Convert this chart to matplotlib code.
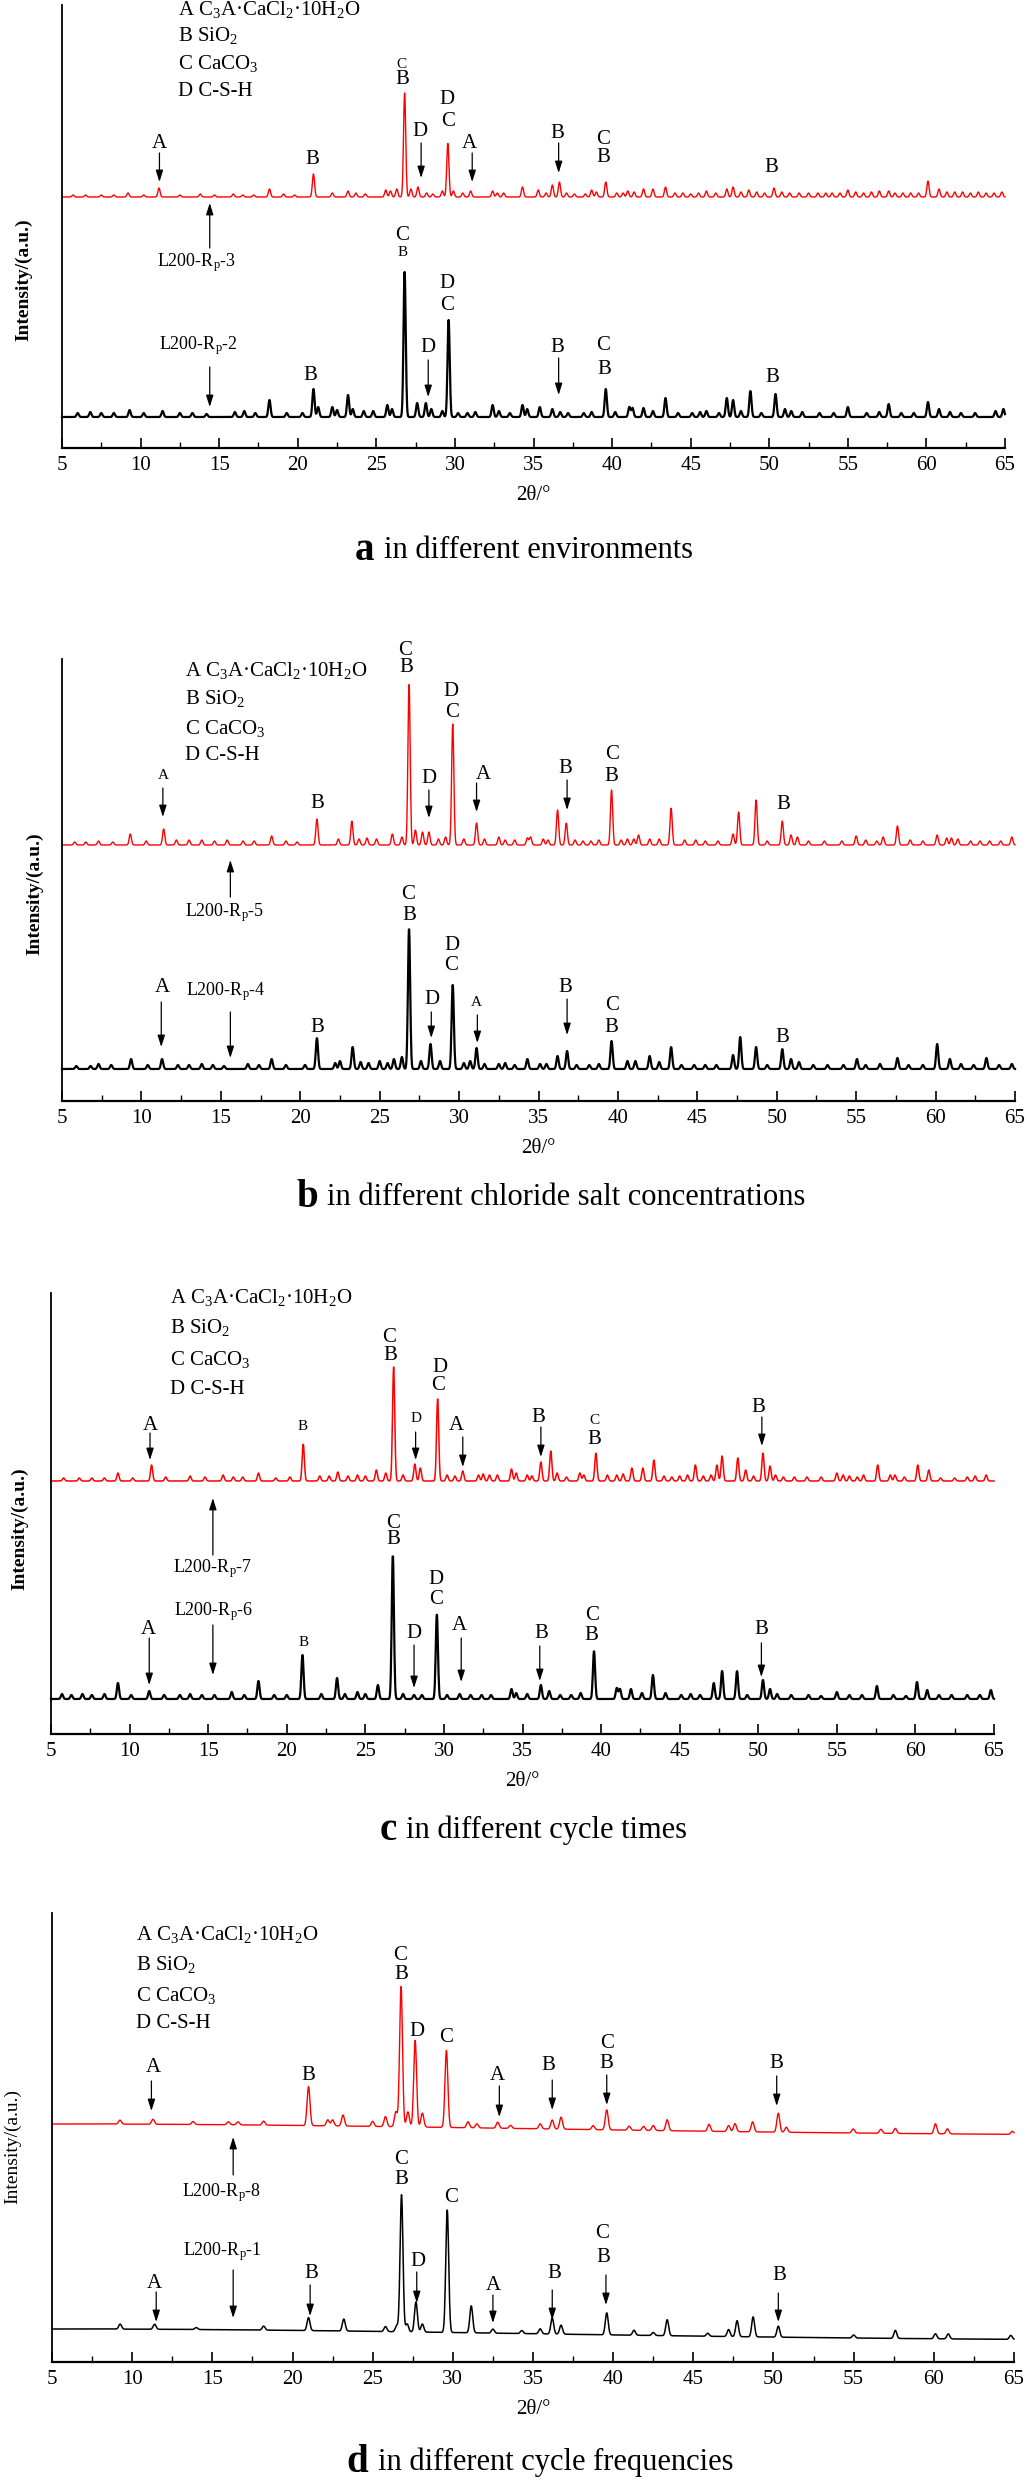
import numpy as np
import matplotlib
matplotlib.use("Agg")
import matplotlib.pyplot as plt

plt.rcParams['font.family'] = ['Liberation Serif', 'DejaVu Serif']
plt.rcParams['mathtext.fontset'] = 'custom'
plt.rcParams['mathtext.rm'] = 'Liberation Serif'
plt.rcParams['mathtext.it'] = 'Liberation Serif:italic'
plt.rcParams['mathtext.bf'] = 'Liberation Serif:bold'

# ---------------- data: peak lists (2theta, height in a.u.) ----------------
A_RED = [(5.7, 2), (6.5, 2), (7.5, 2), (8.3, 2), (9.2, 4), (10.2, 2), (11.17, 9), (12.5, 2),
         (13.8, 3), (14.7, 2), (15.9, 3), (16.5, 2), (17.2, 2), (18.2, 8), (19.1, 3), (19.8, 2),
         (21.0, 23), (22.2, 4), (23.2, 6), (23.7, 4), (24.3, 3), (25.6, 7), (25.9, 6), (26.3, 8),
         (26.8, 104), (27.2, 8), (27.65, 10), (28.2, 4), (28.6, 3), (29.2, 6), (29.55, 54), (29.9, 6),
         (30.5, 4), (31.0, 6), (32.4, 6), (32.7, 4), (33.1, 4), (34.3, 10), (35.3, 7), (35.8, 4),
         (36.2, 12), (36.65, 15), (37.1, 4), (37.6, 3), (38.3, 3), (38.7, 7), (39.0, 5), (39.6, 15),
         (40.3, 4), (40.7, 4), (41.0, 6), (41.4, 5), (42.0, 8), (42.6, 8), (43.4, 10), (44.0, 4),
         (44.5, 4), (45.0, 3), (45.5, 4), (46.0, 6), (46.6, 4), (47.3, 8), (47.7, 10), (48.2, 5),
         (48.7, 7), (49.2, 5), (49.7, 4), (50.3, 9), (50.8, 5), (51.3, 4), (51.9, 4), (52.5, 4),
         (53.1, 4), (53.6, 4), (54.0, 4), (54.5, 4), (55.0, 7), (55.5, 5), (56.0, 4), (56.5, 5),
         (57.0, 6), (57.6, 6), (58.0, 4), (58.5, 4), (59.0, 4), (59.5, 4), (60.1, 16), (60.8, 8),
         (61.3, 5), (61.8, 5), (62.3, 5), (62.8, 4), (63.3, 5), (63.8, 4), (64.3, 4), (64.8, 5)]
A_BLACK = [(6.0, 4), (6.8, 5), (7.5, 4), (8.3, 4), (9.3, 7), (10.2, 4), (11.4, 6), (12.5, 4),
           (13.3, 4), (14.2, 3), (16.0, 5), (16.6, 6), (17.3, 4), (18.2, 17), (19.3, 4), (20.3, 4),
           (21.0, 28), (21.3, 10), (22.2, 10), (22.5, 7), (23.2, 22), (23.5, 8), (24.2, 6), (24.8, 6),
           (25.7, 12), (26.0, 8), (26.8, 145), (27.6, 14), (28.15, 14), (28.5, 8), (29.2, 6), (29.6, 97),
           (30.2, 4), (30.8, 4), (31.3, 5), (32.4, 12), (32.8, 6), (33.5, 4), (34.3, 12), (34.6, 8),
           (35.4, 10), (36.2, 8), (36.7, 5), (37.2, 4), (38.2, 4), (38.7, 5), (39.6, 28), (40.2, 5),
           (41.1, 10), (41.3, 9), (42.0, 9), (42.6, 6), (43.4, 19), (44.2, 4), (45.1, 4), (45.6, 5),
           (46.0, 6), (46.8, 4), (47.3, 19), (47.7, 17), (48.2, 6), (48.8, 26), (49.5, 4), (50.4, 23),
           (51.0, 8), (51.4, 6), (52.1, 5), (53.2, 4), (54.1, 4), (55.0, 10), (56.2, 4), (57.0, 5),
           (57.6, 13), (58.4, 4), (59.2, 4), (60.1, 15), (60.8, 8), (61.5, 5), (62.2, 4), (63.1, 4),
           (64.4, 6), (64.9, 8)]

B_RED = [(5.8, 3), (6.5, 3), (7.3, 4), (8.2, 3), (9.3, 11), (10.3, 4), (11.4, 16), (12.2, 5),
         (13.0, 5), (13.8, 5), (14.6, 4), (15.4, 5), (16.4, 4), (17.1, 4), (18.2, 9), (19.1, 4),
         (19.8, 3), (21.05, 26), (22.4, 6), (23.25, 24), (23.7, 6), (24.2, 7), (24.8, 6), (25.8, 11),
         (26.4, 8), (26.85, 162), (27.25, 15), (27.7, 13), (28.1, 13), (28.7, 6), (29.15, 8),
         (29.6, 121), (30.3, 6), (31.1, 22), (31.6, 6), (32.5, 8), (32.9, 5), (33.5, 5), (34.3, 7),
         (34.5, 8), (35.3, 6), (35.6, 5), (36.2, 35), (36.75, 22), (37.3, 5), (37.8, 4), (38.3, 4),
         (38.8, 5), (39.6, 55), (40.2, 5), (40.6, 6), (41.0, 6), (41.3, 10), (42.0, 6), (42.6, 6),
         (43.35, 37), (44.2, 5), (44.9, 5), (45.5, 4), (46.3, 4), (47.25, 11), (47.6, 33), (48.7, 45),
         (49.4, 4), (50.35, 24), (50.9, 10), (51.3, 8), (52.0, 4), (53.0, 4), (54.1, 4), (55.0, 9),
         (55.6, 5), (56.3, 4), (56.7, 8), (57.6, 19), (58.4, 5), (59.2, 4), (60.1, 10), (60.7, 7),
         (61.0, 7), (61.4, 6), (62.2, 4), (62.8, 4), (63.4, 4), (64.1, 4), (64.8, 8)]
B_BLACK = [(5.9, 3), (6.8, 3), (7.3, 5), (8.1, 4), (9.35, 10), (10.4, 4), (11.3, 10), (12.3, 4),
           (13.0, 4), (13.8, 5), (14.5, 4), (15.2, 3), (16.7, 5), (17.4, 4), (18.2, 10), (19.1, 4),
           (20.3, 4), (21.05, 31), (22.2, 6), (22.5, 8), (23.3, 22), (23.8, 7), (24.3, 6), (25.0, 8),
           (25.5, 6), (25.9, 10), (26.4, 12), (26.85, 141), (27.6, 8), (28.2, 25), (28.8, 8),
           (29.6, 84), (30.3, 6), (30.7, 8), (31.1, 21), (31.6, 5), (32.5, 5), (32.9, 6), (33.5, 4),
           (34.3, 10), (35.1, 5), (35.5, 5), (36.2, 13), (36.8, 18), (37.4, 4), (38.2, 4), (38.8, 5),
           (39.6, 28), (40.6, 8), (41.1, 8), (42.0, 13), (42.6, 7), (43.35, 22), (44.0, 4), (44.8, 4),
           (45.5, 4), (46.2, 4), (47.25, 14), (47.7, 32), (48.7, 22), (49.4, 4), (50.35, 20),
           (50.9, 10), (51.4, 7), (52.3, 4), (53.2, 4), (54.2, 4), (55.05, 10), (55.6, 4), (56.5, 5),
           (57.6, 11), (58.3, 4), (59.2, 4), (60.1, 25), (60.9, 10), (61.6, 5), (62.4, 4), (63.2, 11),
           (64.0, 4), (64.8, 5)]

C_RED = [(5.8, 3), (6.8, 3), (7.6, 3), (8.4, 3), (9.26, 8), (10.2, 3), (11.4, 16), (12.3, 4),
         (13.85, 5), (14.8, 4), (15.95, 6), (16.6, 4), (17.2, 4), (18.2, 8), (19.3, 3), (20.2, 4),
         (21.05, 37), (22.1, 5), (22.7, 5), (23.25, 9), (23.9, 5), (24.5, 6), (25.0, 5), (25.7, 11),
         (26.3, 8), (26.8, 114), (27.4, 6), (28.15, 17), (28.5, 13), (29.6, 82), (30.2, 6), (30.7, 5),
         (31.2, 10), (32.2, 6), (32.5, 7), (32.9, 6), (33.4, 6), (34.3, 12), (34.6, 8), (35.3, 6),
         (35.6, 5), (36.17, 19), (36.8, 30), (37.2, 8), (37.8, 4), (38.65, 8), (38.9, 6), (39.67, 28),
         (40.4, 6), (41.0, 6), (41.4, 7), (41.96, 13), (42.66, 13), (43.36, 21), (44.0, 5), (44.5, 4),
         (45.0, 5), (45.5, 6), (46.0, 16), (46.5, 5), (47.0, 6), (47.37, 16), (47.7, 25), (48.7, 23),
         (49.2, 11), (49.7, 5), (50.3, 28), (50.75, 15), (51.1, 6), (51.6, 4), (52.3, 4), (53.1, 4),
         (54.0, 4), (55.0, 8), (55.4, 6), (55.8, 5), (56.3, 4), (56.7, 6), (57.6, 16), (58.4, 6),
         (58.7, 6), (59.3, 4), (60.15, 16), (60.85, 11), (61.6, 3), (62.5, 3), (63.3, 4), (63.8, 5),
         (64.5, 6)]
C_BLACK = [(5.7, 5), (6.3, 4), (7.0, 5), (7.6, 4), (8.4, 5), (9.26, 16), (10.1, 4), (11.25, 8),
           (12.2, 4), (13.2, 4), (13.85, 5), (14.6, 4), (15.4, 4), (16.5, 7), (17.3, 4), (18.2, 18),
           (19.2, 4), (20.0, 4), (21.0, 44), (22.2, 5), (23.2, 21), (23.7, 5), (24.5, 7), (25.0, 5),
           (25.8, 14), (26.75, 144), (27.4, 5), (28.1, 4), (28.6, 4), (29.55, 85), (30.2, 4), (31.0, 5),
           (31.7, 4), (32.4, 4), (33.0, 4), (34.3, 10), (34.6, 6), (35.3, 5), (36.17, 14), (36.7, 8),
           (37.4, 4), (38.1, 4), (38.7, 6), (39.55, 48), (41.0, 11), (41.2, 10), (41.9, 10), (42.6, 6),
           (43.3, 24), (44.1, 6), (45.1, 4), (45.7, 5), (46.3, 4), (47.17, 16), (47.7, 28), (48.65, 28),
           (49.3, 4), (50.3, 19), (50.75, 10), (51.2, 5), (52.1, 4), (53.2, 4), (54.0, 3), (55.0, 7),
           (55.8, 4), (56.6, 4), (57.55, 13), (58.6, 4), (59.4, 3), (60.1, 17), (60.75, 9), (61.5, 4),
           (62.3, 4), (63.3, 4), (64.1, 4), (64.8, 9)]

D_RED = [(9.24, 4), (11.3, 5), (13.8, 3), (16.0, 3), (16.6, 3), (18.2, 4), (21.0, 39), (22.2, 6),
         (22.5, 6), (23.15, 11), (25.0, 5), (25.8, 10), (26.45, 15), (26.77, 141), (27.2, 15),
         (27.65, 87), (28.1, 14), (29.6, 77), (30.95, 6), (31.5, 4), (32.8, 6), (33.6, 3), (35.45, 5),
         (36.2, 9), (36.75, 12), (38.75, 4), (39.6, 20), (41.0, 4), (41.9, 4), (42.5, 5), (43.37, 11),
         (45.98, 7), (47.2, 6), (47.6, 8), (48.7, 10), (50.3, 19), (50.8, 5), (54.97, 4), (56.7, 4),
         (57.6, 5), (60.1, 10), (60.85, 5), (64.9, 3)]
D_BLACK = [(9.25, 5), (11.4, 5), (14.0, 2), (18.2, 4), (21.0, 13), (23.2, 12), (25.8, 5), (26.5, 6),
           (26.8, 137), (27.15, 8), (27.7, 30), (28.1, 8), (29.65, 123), (31.15, 27), (32.5, 4),
           (34.3, 3), (35.45, 5), (36.2, 16), (36.75, 9), (39.6, 22), (41.3, 5), (42.5, 3),
           (43.37, 16), (45.9, 3), (47.2, 7), (47.73, 16), (48.73, 20), (50.3, 11), (55.0, 3),
           (57.6, 8), (60.1, 5), (60.9, 5), (64.8, 4)]
# slowly decaying background of panel d (centre, height)
D_BACKGROUND = (5.0, 12.0)

# baseline levels of each trace (a.u.)
OFFSETS = {'a': (251, 31), 'b': (256, 32), 'c': (253, 35), 'd': (226, 21)}

# peak labels: (text, 2theta, height)
A_LABELS = [('A', 11.2, 305), ('B', 20.9, 289), ('B', 26.65, 368), ('D', 27.8, 317), ('D', 29.5, 348),
            ('C', 29.55, 326), ('A', 30.95, 305), ('B', 36.5, 315), ('C', 39.4, 308), ('B', 39.45, 290),
            ('B', 50.1, 281), ('C', 26.65, 213), ('D', 29.5, 165), ('C', 29.5, 142), ('D', 28.3, 100),
            ('B', 20.8, 73), ('B', 36.5, 101), ('C', 39.45, 102), ('B', 39.5, 78), ('B', 50.2, 71)]
A_SMALL = [('C', 26.6, 383), ('B', 26.7, 195)]
A_ARROWS = [(11.2, 295, 266), (27.85, 305, 270), (31.1, 295, 266), (36.6, 305, 275),
            (28.3, 88, 51), (36.6, 90, 53)]

B_LABELS = [('B', 21.05, 297), ('C', 26.6, 450), ('B', 26.65, 433), ('D', 28.1, 322), ('D', 29.5, 409),
            ('C', 29.55, 388), ('A', 31.5, 326), ('B', 36.7, 332), ('C', 39.6, 346), ('B', 39.6, 324),
            ('B', 50.4, 296), ('C', 26.8, 206), ('B', 26.85, 186), ('D', 29.55, 155), ('C', 29.5, 135),
            ('D', 28.3, 102), ('B', 21.05, 74), ('A', 11.3, 113), ('B', 36.7, 114), ('C', 39.6, 96),
            ('B', 39.6, 73), ('B', 50.35, 64)]
B_SMALL = [('A', 11.35, 325), ('A', 31.1, 98)]
B_ARROWS = [(11.35, 313, 284), (28.1, 311, 283), (31.1, 318, 289), (36.8, 321, 291),
            (28.25, 89, 63), (31.15, 86, 58), (11.25, 99, 54), (36.8, 102, 66)]

C_LABELS = [('A', 11.3, 309), ('C', 26.5, 396), ('B', 26.6, 379), ('D', 29.75, 366), ('C', 29.6, 348),
            ('A', 30.8, 309), ('B', 36.0, 317), ('B', 39.6, 294), ('B', 50.0, 326), ('C', 26.75, 211),
            ('B', 26.75, 195), ('D', 29.5, 155), ('C', 29.5, 135), ('D', 28.1, 101), ('A', 31.0, 108),
            ('A', 11.2, 105), ('B', 36.17, 101), ('C', 39.4, 118), ('B', 39.4, 98), ('B', 50.2, 105)]
C_SMALL = [('B', 21.0, 307), ('D', 28.2, 316), ('C', 39.6, 313), ('B', 21.1, 91)]
C_ARROWS = [(11.3, 301, 274), (28.2, 302, 274), (31.2, 297, 267), (36.17, 307, 277), (50.23, 317, 288),
            (28.1, 89, 46), (31.1, 96, 52), (11.25, 96, 49), (36.1, 88, 53), (50.2, 91, 57)]

D_LABELS = [('A', 11.3, 295), ('B', 21.0, 286), ('C', 26.7, 407), ('B', 26.8, 388), ('D', 27.75, 330),
            ('C', 29.6, 324), ('A', 32.8, 287), ('B', 35.95, 296), ('C', 39.6, 318), ('B', 39.6, 298),
            ('B', 50.2, 298), ('C', 26.77, 203), ('B', 26.77, 183), ('C', 29.9, 164), ('D', 27.8, 101),
            ('A', 11.4, 79), ('B', 21.15, 89), ('A', 32.5, 77), ('B', 36.3, 88), ('C', 39.3, 128),
            ('B', 39.4, 105), ('B', 50.35, 87)]
D_SMALL = []
D_ARROWS = [(11.2, 281, 251), (32.9, 276, 245), (36.2, 282, 252), (39.6, 287, 257), (50.2, 286, 256),
            (27.75, 90, 59), (11.5, 70, 40), (21.1, 77, 46), (32.5, 67, 39), (36.2, 72, 42),
            (39.55, 87, 57), (50.3, 69, 40)]

# sample names: (name, text left x, text y, arrow x, arrow from, arrow to)
A_SAMPLES = [('L200-R$_\\mathrm{p}$-3', 11.04, 185, 14.4, 200, 245),
             ('L200-R$_\\mathrm{p}$-2', 11.17, 102, 14.4, 81, 41)]
B_SAMPLES = [('L200-R$_\\mathrm{p}$-5', 12.75, 188, 15.6, 204, 241),
             ('L200-R$_\\mathrm{p}$-4', 12.8, 109, 15.6, 89, 43)]
C_SAMPLES = [('L200-R$_\\mathrm{p}$-7', 12.76, 165, 15.3, 179, 236),
             ('L200-R$_\\mathrm{p}$-6', 12.82, 122, 15.3, 109, 59)]
D_SAMPLES = [('L200-R$_\\mathrm{p}$-8', 13.1, 169, 16.3, 187, 225),
             ('L200-R$_\\mathrm{p}$-1', 13.17, 110, 16.3, 92, 44)]

PHASES = ['A C$_3$A·CaCl$_2$·10H$_2$O', 'B SiO$_2$', 'C CaCO$_3$', 'D C-S-H']
CAPTIONS = [('a', 'in different environments'), ('b', 'in different chloride salt concentrations'),
            ('c', 'in different cycle times'), ('d', 'in different cycle frequencies')]

# ---------------- layout (pixels of the 1027x2482 image) ----------------
W, H = 1027, 2482
# left, right, top, bottom
BOXES = {'a': (62, 1005, 5, 448), 'b': (62, 1015, 659, 1101),
         'c': (51, 994, 1293, 1734), 'd': (52, 1014, 1913, 2362)}
LEGEND_POS = {'a': (12.38, [438, 412, 384, 357]), 'b': (12.75, [430, 402, 372, 345]),
              'c': (12.57, [437, 406, 375, 345]), 'd': (10.24, [428, 398, 367, 339])}
YLABEL_POS = {'a': (-0.031, 0.38), 'b': (-0.020, 0.47), 'c': (-0.024, 0.465), 'd': (-0.032, 0.48)}
CAPTION_POS = {'a': (524, 550), 'b': (551, 1198), 'c': (533, 1830), 'd': (540, 2462)}

fig = plt.figure(figsize=(W / 100, H / 100), dpi=100)
theta = np.arange(5, 65.0001, 0.02)


def pattern(peaks, base, sigma, background=None):
    y = np.full_like(theta, float(base))
    for pos, h in peaks:
        y += h * np.exp(-0.5 * ((theta - pos) / sigma) ** 2)
    if background is not None:
        c, h = background
        y += h * np.exp(-0.5 * ((theta - c) / 30.0) ** 2)
    return y


def arrow(ax, x, y0, y1):
    ax.annotate('', xy=(x, y1), xytext=(x, y0),
                arrowprops=dict(arrowstyle='-|>,head_length=0.7,head_width=0.22',
                                color='black', lw=0.9, shrinkA=0, shrinkB=0))


def draw_panel(key, red, black, labels, small, arrows, samples, sigma, lw, bold_ylabel, bg=None):
    l, r, t, b = BOXES[key]
    ax = fig.add_axes([l / W, 1 - b / H, (r - l) / W, (b - t) / H])
    ax.set_xlim(5, 65)
    ax.set_ylim(0, b - t)
    off_r, off_k = OFFSETS[key]
    ax.plot(theta, pattern(red, off_r, sigma, bg), color='#ff0000', lw=lw[0], clip_on=False)
    ax.plot(theta, pattern(black, off_k, sigma, bg), color='black', lw=lw[1], clip_on=False)

    for s in ['top', 'right']:
        ax.spines[s].set_visible(False)
    ax.spines['left'].set_linewidth(1.3)
    ax.spines['bottom'].set_linewidth(1.6)
    ax.set_yticks([])
    ax.set_xticks(np.arange(5, 66, 5))
    ax.set_xticks(np.arange(7.5, 65, 5), minor=True)
    ax.tick_params(axis='x', which='major', direction='in', length=7, width=1.2, labelsize=15, pad=6)
    ax.tick_params(axis='x', which='minor', direction='in', length=4, width=1.0)
    ax.set_xlabel('2θ/°', fontsize=15, labelpad=8)
    ax.set_ylabel('Intensity/(a.u.)', fontsize=14, fontweight='bold' if bold_ylabel else 'normal')
    ax.yaxis.set_label_coords(*YLABEL_POS[key])

    lx, lys = LEGEND_POS[key]
    for txt, yy in zip(PHASES, lys):
        ax.text(lx, yy, txt, fontsize=15, ha='left', va='center')

    for txt, x, y in labels:
        ax.text(x, y, txt, fontsize=15, ha='center', va='center')
    for txt, x, y in small:
        ax.text(x, y, txt, fontsize=11, ha='center', va='center')
    for x, y0, y1 in arrows:
        arrow(ax, x, y0, y1)
    for name, tx, ty, ax_x, y0, y1 in samples:
        ax.text(tx, ty, name, fontsize=13, ha='left', va='center')
        arrow(ax, ax_x, y0, y1)
    return ax


draw_panel('a', A_RED, A_BLACK, A_LABELS, A_SMALL, A_ARROWS, A_SAMPLES, 0.07, (1.0, 1.6), True)
draw_panel('b', B_RED, B_BLACK, B_LABELS, B_SMALL, B_ARROWS, B_SAMPLES, 0.07, (1.0, 1.6), True)
draw_panel('c', C_RED, C_BLACK, C_LABELS, C_SMALL, C_ARROWS, C_SAMPLES, 0.07, (1.1, 1.6), True)
draw_panel('d', D_RED, D_BLACK, D_LABELS, D_SMALL, D_ARROWS, D_SAMPLES, 0.09, (1.0, 1.1), False,
           bg=D_BACKGROUND)

# captions: bold panel letter followed by plain text, centred as a group
renderer = fig.canvas.get_renderer()
for (letter, desc), key in zip(CAPTIONS, 'abcd'):
    cx, cy = CAPTION_POS[key]
    t1 = fig.text(0, 1 - cy / H, letter, fontsize=28, fontweight='bold', ha='left', va='center')
    t2 = fig.text(0, 1 - cy / H, desc, fontsize=22, ha='left', va='center')
    w1 = t1.get_window_extent(renderer).width
    w2 = t2.get_window_extent(renderer).width
    gap = 9
    x0 = cx - (w1 + gap + w2) / 2
    t1.set_x(x0 / W)
    t2.set_x((x0 + w1 + gap) / W)

fig.savefig('out.png', dpi=100)
